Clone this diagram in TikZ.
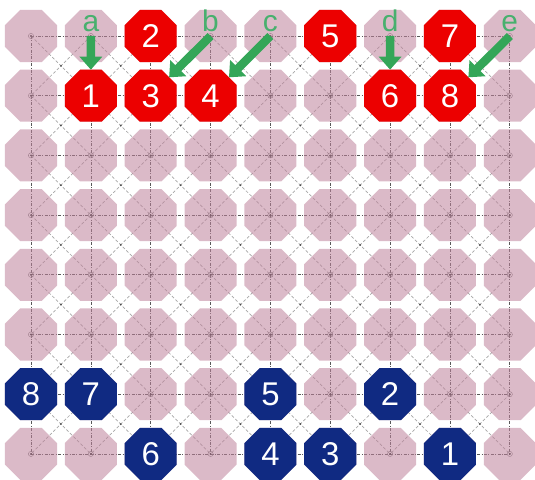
\documentclass[tikz,border=0pt]{standalone}
\usepackage{fontspec}
\setmainfont{Liberation Sans}
\usetikzlibrary{shapes.geometric,arrows.meta,calc}
\pgfdeclarelayer{bg}
\pgfsetlayers{bg,main}
\definecolor{pinkc}{RGB}{190,130,155}
\definecolor{redc}{RGB}{236,0,0}
\definecolor{bluec}{RGB}{16,42,130}
\definecolor{greenc}{RGB}{52,166,88}
\definecolor{lblc}{RGB}{72,176,110}
\begin{document}
\begin{tikzpicture}[x=1bp,y=-1bp,
  oct/.style={regular polygon, regular polygon sides=8, minimum size=56.3bp,
    inner sep=0pt, outer sep=0pt, draw=none, text=white,
    font=\fontsize{33}{33}\selectfont},
  pinkoct/.style={oct, fill=pinkc, fill opacity=0.55},
  redoct/.style={oct, fill=redc},
  blueoct/.style={oct, fill=bluec},
  gridline/.style={draw=black!65, line width=0.7bp, dash pattern=on 3bp off 1.5bp on 0.8bp off 1.5bp},
  diagline/.style={draw=black!35, line width=0.7bp, dash pattern=on 3bp off 2bp},
  garrow/.style={draw=greenc, line width=8.5bp, -{Triangle[width=22bp,length=13bp]}},
  lbl/.style={text=lblc, font=\fontsize{30}{30}\selectfont, inner sep=0pt, anchor=base}]
\useasboundingbox (0,0) rectangle (535,480);

% pink grid octagons
\foreach \i in {0,...,8}{
  \foreach \j in {0,...,7}{
    \node[pinkoct] (n-\i-\j) at ({31+59.85*\i},{36+59.7*\j}) {};
  }
}

% grid lines underneath
\begin{pgfonlayer}{bg}
  \foreach \i [evaluate=\i as \ip using int(\i+1)] in {0,...,7}{
    \foreach \j in {0,...,7}{
      \draw[gridline] (n-\i-\j.center) -- (n-\ip-\j.center);
    }
  }
  \foreach \i in {0,...,8}{
    \foreach \j [evaluate=\j as \jp using int(\j+1)] in {0,...,6}{
      \draw[gridline] (n-\i-\j.center) -- (n-\i-\jp.center);
    }
  }
  \foreach \i [evaluate=\i as \ip using int(\i+1)] in {0,...,7}{
    \foreach \j [evaluate=\j as \jp using int(\j+1)] in {0,...,6}{
      \draw[diagline] (n-\i-\j.center) -- (n-\ip-\jp.center);
      \draw[diagline] (n-\ip-\j.center) -- (n-\i-\jp.center);
      \fill[black!70] ($(n-\i-\j.center)!0.5!(n-\ip-\jp.center)$) circle (1bp);
    }
  }
  \foreach \i in {0,...,8}{
    \foreach \j in {0,...,7}{
      \fill[black!80] (n-\i-\j.center) circle (1.1bp);
      \draw[black!55, line width=0.4bp] (n-\i-\j.center) circle (2.6bp);
    }
  }
\end{pgfonlayer}

% red octagons
\node[redoct] (r1) at (n-1-1) {1};
\node[redoct] (r2) at (n-2-0) {2};
\node[redoct] (r3) at (n-2-1) {3};
\node[redoct] (r4) at (n-3-1) {4};
\node[redoct] (r5) at (n-5-0) {5};
\node[redoct] (r6) at (n-6-1) {6};
\node[redoct] (r7) at (n-7-0) {7};
\node[redoct] (r8) at (n-7-1) {8};

% blue octagons
\node[blueoct] (b8) at (n-0-6) {8};
\node[blueoct] (b7) at (n-1-6) {7};
\node[blueoct] (b6) at (n-2-7) {6};
\node[blueoct] (b5) at (n-4-6) {5};
\node[blueoct] (b4) at (n-4-7) {4};
\node[blueoct] (b3) at (n-5-7) {3};
\node[blueoct] (b2) at (n-6-6) {2};
\node[blueoct] (b1) at (n-7-7) {1};

% arrows
\draw[garrow] (n-1-0.center) -- (r1);
\draw[garrow] (n-3-0.center) -- (r3);
\draw[garrow] (n-4-0.center) -- (r4);
\draw[garrow] (n-6-0.center) -- (r6);
\draw[garrow] (n-8-0.center) -- (r8);

% labels
\path (n-1-0.center) ++(0,-4) node[lbl] (la) {a};
\path (n-3-0.center) ++(0,-4) node[lbl] (lb) {b};
\path (n-4-0.center) ++(0,-4) node[lbl] (lc) {c};
\path (n-6-0.center) ++(0,-4) node[lbl] (ld) {d};
\path (n-8-0.center) ++(0,-4) node[lbl] (le) {e};
\end{tikzpicture}
\end{document}
